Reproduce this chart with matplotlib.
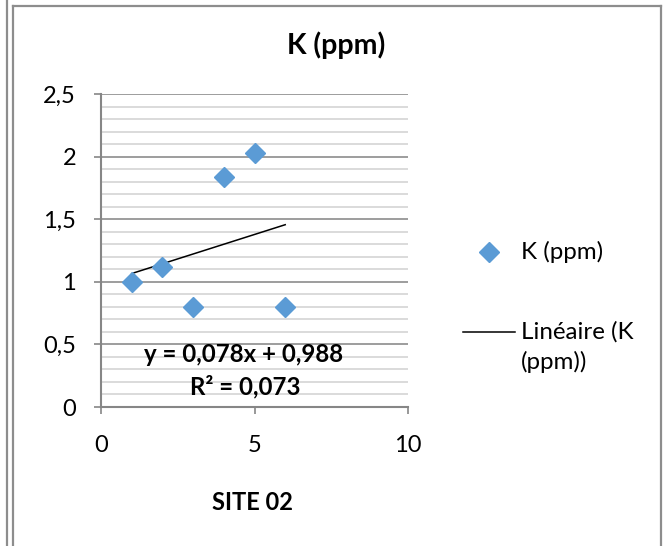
import numpy as np
import matplotlib
matplotlib.use("Agg")
import matplotlib.pyplot as plt
from matplotlib.lines import Line2D
from matplotlib.ticker import MultipleLocator, FixedLocator

plt.rcParams['font.family'] = ['Lato', 'DejaVu Sans']

# K (ppm) measured at each sampling point of site 02
x_vals = [1, 2, 3, 4, 5, 6]
k_ppm = [1.00, 1.12, 0.80, 1.84, 2.03, 0.80]

# linear trend as printed on the chart
slope = 0.078
intercept = 0.988
r2 = 0.073

y_ticks = [0, 0.5, 1, 1.5, 2, 2.5]
y_tick_labels = ["0", "0,5", "1", "1,5", "2", "2,5"]
x_ticks = [0, 5, 10]
x_tick_labels = ["0", "5", "10"]

W, H = 668, 546
fig = plt.figure(figsize=(W / 100, H / 100), dpi=100)


def fx(px):
    return px / W


def fy(py):
    return 1 - py / H


ax = fig.add_axes([fx(101), fy(407), fx(408) - fx(101), fy(94) - fy(407)])
ax.set_xlim(0, 10)
ax.set_ylim(0, 2.5)

# gridlines: major every 0.5, minor every 0.1
ax.yaxis.set_major_locator(FixedLocator(y_ticks))
ax.yaxis.set_minor_locator(MultipleLocator(0.1))
ax.set_yticklabels(y_tick_labels)
ax.xaxis.set_major_locator(FixedLocator(x_ticks))
ax.set_xticklabels(x_tick_labels)
ax.grid(axis='y', which='major', color='#8c8c8c', linewidth=1.2)
ax.grid(axis='y', which='minor', color='#d4d4d4', linewidth=1.2)
ax.set_axisbelow(True)

for side in ['top', 'right']:
    ax.spines[side].set_visible(False)
for side in ['left', 'bottom']:
    ax.spines[side].set_color('#868686')
    ax.spines[side].set_linewidth(1.5)

ax.tick_params(axis='y', which='major', direction='out', length=5, width=1.2,
               color='#868686', labelsize=17, pad=13)
ax.tick_params(axis='y', which='minor', length=0)
ax.tick_params(axis='x', which='major', direction='out', length=5, width=1.2,
               color='#868686', labelsize=17, pad=15)

# data points
ax.plot(x_vals, k_ppm, linestyle='none', marker='D', markersize=10,
        color='#5b9bd5', label='K (ppm)', zorder=3, clip_on=False)

# linear trendline over the data range
xt = np.array([min(x_vals), max(x_vals)])
ax.plot(xt, slope * xt + intercept, color='black', linewidth=1.1, zorder=2)

# title, axis title, equation
fig.text(fx(336), fy(45), "K (ppm)", ha='center', va='center',
         fontsize=20.5, fontweight='bold')
fig.text(fx(253), fy(502), "SITE 02", ha='center', va='center',
         fontsize=17, fontweight='bold')
eq = "y = {:.3f}x + {:.3f}".format(slope, intercept).replace('.', ',')
r2_txt = "R² = {:.3f}".format(r2).replace('.', ',')
fig.text(fx(244), fy(355), eq, ha='center', va='center',
         fontsize=17.3, fontweight='bold')
fig.text(fx(245), fy(387), r2_txt, ha='center', va='center',
         fontsize=17.3, fontweight='bold')

# legend
fig.add_artist(Line2D([fx(489)], [fy(252)], marker='D', markersize=10,
                      color='#5b9bd5', linestyle='none'))
fig.text(fx(521), fy(252), "K (ppm)", ha='left', va='center', fontsize=17.4)
fig.add_artist(Line2D([fx(463), fx(515)], [fy(332), fy(332)],
                      color='black', linewidth=1.1))
fig.text(fx(521), fy(332), "Linéaire (K", ha='left', va='center', fontsize=17.4)
fig.text(fx(521), fy(362), "(ppm))", ha='left', va='center', fontsize=17.4)

# surrounding frame
frame_c = '#8d8d8d'
fig.add_artist(Line2D([fx(7), fx(7)], [0, 1], color=frame_c, linewidth=1.6))
fig.add_artist(Line2D([fx(13), fx(13)], [0, fy(6)], color=frame_c, linewidth=1.6))
fig.add_artist(Line2D([fx(13), fx(661)], [fy(6), fy(6)], color=frame_c, linewidth=1.6))
fig.add_artist(Line2D([fx(661), fx(661)], [fy(6), 0], color=frame_c, linewidth=1.6))

fig.savefig("out.png", dpi=100)
